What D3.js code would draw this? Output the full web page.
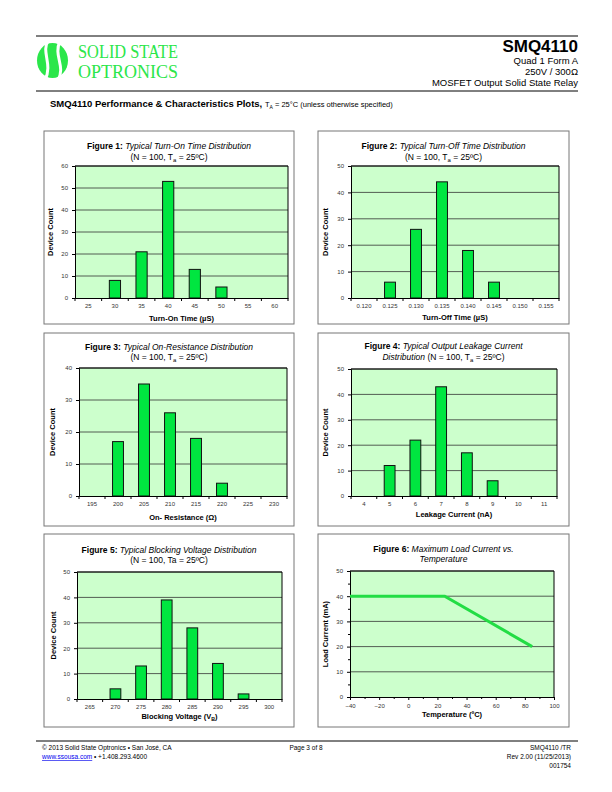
<!DOCTYPE html>
<html>
<head>
<meta charset="utf-8">
<script src="https://cdn.jsdelivr.net/npm/d3@7"></script>
<style>
  body { margin: 0; background: #fff; }
  text { font-family: "Liberation Sans", Arial, sans-serif; }
</style>
</head>
<body>
<svg id="page" width="612" height="792"></svg>
<script>
var svg = d3.select("#page");

// data
var turnOnCats = ["25", "30", "35", "40", "45", "50", "55", "60"];
var turnOnCounts = [0, 8, 21, 53, 13, 5, 0, 0];

var turnOffCats = ["0.120", "0.125", "0.130", "0.135", "0.140", "0.145", "0.150", "0.155"];
var turnOffCounts = [0, 6, 26, 44, 18, 6, 0, 0];

var onResCats = ["195", "200", "205", "210", "215", "220", "225", "230"];
var onResCounts = [0, 17, 35, 26, 18, 4, 0, 0];

var leakCats = ["4", "5", "6", "7", "8", "9", "10", "11"];
var leakCounts = [0, 12, 22, 43, 17, 6, 0, 0];

var blockCats = ["265", "270", "275", "280", "285", "290", "295", "300"];
var blockCounts = [0, 4, 13, 39, 28, 14, 2, 0];

var loadTemp = [-40, 25, 85];
var loadCurrent = [40, 40, 20];
var loadXTicks = [-40, -20, 0, 20, 40, 60, 80, 100];
var loadYTicks = [0, 10, 20, 30, 40, 50];

var barGreen = "#00e640";
var plotBg = "#ccffcc";

// ---------- header ----------
svg.append("line").attr("x1", 36).attr("x2", 578).attr("y1", 36).attr("y2", 36)
  .attr("stroke", "#000").attr("stroke-width", 1);
svg.append("line").attr("x1", 36).attr("x2", 578).attr("y1", 91).attr("y2", 91)
  .attr("stroke", "#000").attr("stroke-width", 1);

// logo
var logo = svg.append("g");
logo.append("ellipse").attr("cx", 52.5).attr("cy", 60.5).attr("rx", 15.5).attr("ry", 17.5)
  .attr("fill", "#2be64a");
logo.append("path").attr("d", "M48,41 C41,52 53,64 45,80")
  .attr("stroke", "#fff").attr("stroke-width", 3).attr("fill", "none");
logo.append("path").attr("d", "M60,41 C53,56 66,66 58,80")
  .attr("stroke", "#fff").attr("stroke-width", 3).attr("fill", "none");
logo.append("text").attr("x", 78).attr("y", 57.5).attr("textLength", 100).attr("lengthAdjust", "spacingAndGlyphs")
  .style("font-family", "'Liberation Serif', serif").style("font-size", "18px").attr("fill", "#2be64a")
  .text("SOLID STATE");
logo.append("text").attr("x", 78).attr("y", 78).attr("textLength", 100).attr("lengthAdjust", "spacingAndGlyphs")
  .style("font-family", "'Liberation Serif', serif").style("font-size", "18px").attr("fill", "#2be64a")
  .text("OPTRONICS");

svg.append("text").attr("x", 578).attr("y", 52).attr("text-anchor", "end")
  .style("font-size", "17px").style("font-weight", "bold").text("SMQ4110");
var headLines = ["Quad 1 Form A", "250V / 300Ω", "MOSFET Output Solid State Relay"];
svg.selectAll(".head").data(headLines).enter().append("text")
  .attr("x", 578).attr("y", (d, i) => 64 + i * 11).attr("text-anchor", "end")
  .style("font-size", "9.5px").text(d => d);

var sub = svg.append("text").attr("x", 50).attr("y", 107);
sub.append("tspan").style("font-size", "9.5px").style("font-weight", "bold")
  .text("SMQ4110 Performance & Characteristics Plots, ");
sub.append("tspan").style("font-size", "7.5px").text("T");
sub.append("tspan").style("font-size", "5px").attr("dy", 1.5).text("A");
sub.append("tspan").style("font-size", "7.5px").attr("dy", -1.5).text(" = 25°C (unless otherwise specified)");

// ---------- helpers ----------
function addSegments(sel, segs) {
  segs.forEach(function(s) {
    var t = sel.append("tspan").text(s.t);
    if (s.b) t.style("font-weight", "bold");
    if (s.i) t.style("font-style", "italic");
    if (s.sub) t.attr("dy", 2).style("font-size", "0.7em");
    if (s.up) t.attr("dy", -2);
  });
}

function panel(f) {
  var g = svg.append("g");
  g.append("rect").attr("x", f.box[0]).attr("y", f.box[1]).attr("width", f.box[2]).attr("height", f.box[3])
    .attr("fill", "#fff").attr("stroke", "#777").attr("stroke-width", 1);
  var cx = f.box[0] + f.box[2] / 2;
  f.title.forEach(function(line, i) {
    var t = g.append("text").attr("x", cx).attr("y", f.titleY[i]).attr("text-anchor", "middle")
      .style("font-size", "8.5px");
    addSegments(t, line);
  });
  g.append("rect").attr("x", f.plot.x0).attr("y", f.plot.y0)
    .attr("width", f.plot.x1 - f.plot.x0).attr("height", f.plot.y1 - f.plot.y0)
    .attr("fill", plotBg);
  var xt = g.append("text").attr("x", (f.plot.x0 + f.plot.x1) / 2).attr("y", f.xTitleY)
    .attr("text-anchor", "middle").style("font-size", "7.5px").style("font-weight", "bold");
  addSegments(xt, f.xTitle);
  g.append("text").attr("transform", "translate(" + f.yTitleX + "," + ((f.plot.y0 + f.plot.y1) / 2) + ") rotate(-90)")
    .attr("text-anchor", "middle").style("font-size", "7.5px").style("font-weight", "bold")
    .text(f.yTitle);
  return g;
}

function yAxisGrid(g, f, y, ticks, minor) {
  g.selectAll(".grid").data(ticks.filter(d => d > 0)).enter().append("line")
    .attr("x1", f.plot.x0).attr("x2", f.plot.x1).attr("y1", d => y(d)).attr("y2", d => y(d))
    .attr("stroke", "#333").attr("stroke-width", 0.8);
  g.append("line").attr("x1", f.plot.x1).attr("x2", f.plot.x1).attr("y1", f.plot.y0).attr("y2", f.plot.y1)
    .attr("stroke", "#000").attr("stroke-width", 1);
  g.append("line").attr("x1", f.plot.x0).attr("x2", f.plot.x1).attr("y1", f.plot.y0).attr("y2", f.plot.y0)
    .attr("stroke", "#000").attr("stroke-width", 1);
  if (minor) {
    g.append("g").attr("transform", "translate(" + f.plot.x0 + ",0)")
      .call(d3.axisLeft(y).tickValues(minor).tickSize(2).tickFormat(""))
      .call(a => a.select(".domain").remove());
  }
  var ya = g.append("g").attr("transform", "translate(" + f.plot.x0 + ",0)")
    .call(d3.axisLeft(y).tickValues(ticks).tickSize(3).tickPadding(4));
  ya.selectAll("text").style("font-size", "6px").attr("fill", "#333");
}

function drawHist(f) {
  var g = panel(f);
  var x = d3.scaleBand().domain(f.cats).range([f.plot.x0, f.plot.x1]);
  var y = d3.scaleLinear().domain([0, f.yMax]).range([f.plot.y1, f.plot.y0]);
  var ticks = d3.range(0, f.yMax + 1, 10);
  yAxisGrid(g, f, y, ticks);

  var bw = x.bandwidth() * 0.42;
  g.selectAll(".bar").data(f.cats.map((c, i) => ({c: c, v: f.counts[i]})).filter(d => d.v > 0))
    .enter().append("rect")
    .attr("x", d => x(d.c) + (x.bandwidth() - bw) / 2)
    .attr("y", d => y(d.v))
    .attr("width", bw)
    .attr("height", d => y(0) - y(d.v))
    .attr("fill", barGreen).attr("stroke", "#111").attr("stroke-width", 1);

  var xa = g.append("g").attr("transform", "translate(0," + f.plot.y1 + ")")
    .call(d3.axisBottom(x).tickSize(0).tickPadding(6));
  xa.selectAll("text").style("font-size", "6px").attr("fill", "#333");
  xa.select(".domain").attr("stroke", "#000");
  var bounds = f.cats.map(c => x(c)).concat([f.plot.x1]);
  g.selectAll(".xtick").data(bounds).enter().append("line")
    .attr("x1", d => d).attr("x2", d => d).attr("y1", f.plot.y1).attr("y2", f.plot.y1 + 3)
    .attr("stroke", "#000");
}

var title2 = [{t: "(N = 100, T"}, {t: "a", sub: true}, {t: " = 25ºC)", up: true}];

drawHist({
  box: [44, 131, 250, 193], plot: {x0: 75, x1: 288, y0: 166, y1: 298},
  title: [[{t: "Figure 1:", b: true}, {t: "  Typical Turn-On Time Distribution", i: true}], title2],
  titleY: [149, 160], xTitleY: 321, yTitleX: 53,
  xTitle: [{t: "Turn-On Time  (µS)"}], yTitle: "Device Count",
  cats: turnOnCats, counts: turnOnCounts, yMax: 60
});

drawHist({
  box: [318, 131, 251, 193], plot: {x0: 351, x1: 559, y0: 166, y1: 298},
  title: [[{t: "Figure 2:", b: true}, {t: " Typical Turn-Off Time Distribution", i: true}], title2],
  titleY: [149, 160], xTitleY: 320, yTitleX: 328,
  xTitle: [{t: "Turn-Off Time  (µS)"}], yTitle: "Device Count",
  cats: turnOffCats, counts: turnOffCounts, yMax: 50
});

drawHist({
  box: [44, 333, 250, 193], plot: {x0: 79, x1: 287, y0: 368, y1: 496},
  title: [[{t: "Figure 3:", b: true}, {t: " Typical On-Resistance Distribution", i: true}], title2],
  titleY: [350, 360], xTitleY: 520, yTitleX: 55,
  xTitle: [{t: "On- Resistance  (Ω)"}], yTitle: "Device Count",
  cats: onResCats, counts: onResCounts, yMax: 40
});

drawHist({
  box: [318, 333, 251, 193], plot: {x0: 351, x1: 557, y0: 369, y1: 496},
  title: [[{t: "Figure 4:", b: true}, {t: " Typical Output Leakage Current", i: true}],
          [{t: "Distribution", i: true}, {t: " (N = 100, T"}, {t: "a", sub: true}, {t: " = 25ºC)", up: true}]],
  titleY: [349, 360], xTitleY: 517, yTitleX: 328,
  xTitle: [{t: "Leakage Current (nA)"}], yTitle: "Device Count",
  cats: leakCats, counts: leakCounts, yMax: 50
});

drawHist({
  box: [44, 534, 250, 193], plot: {x0: 77, x1: 282, y0: 572, y1: 699},
  title: [[{t: "Figure 5:", b: true}, {t: " Typical Blocking Voltage Distribution", i: true}],
          [{t: "(N = 100, Ta = 25ºC)"}]],
  titleY: [553, 563], xTitleY: 719, yTitleX: 56,
  xTitle: [{t: "Blocking Voltage  (V"}, {t: "B", sub: true}, {t: ")", up: true}], yTitle: "Device Count",
  cats: blockCats, counts: blockCounts, yMax: 50
});

// Figure 6: line chart
(function() {
  var f = {
    box: [318, 534, 251, 193], plot: {x0: 350, x1: 554, y0: 571, y1: 697},
    title: [[{t: "Figure 6:", b: true}, {t: " Maximum Load Current vs.", i: true}], [{t: "Temperature", i: true}]],
    titleY: [552, 562], xTitleY: 717, yTitleX: 328,
    xTitle: [{t: "Temperature  (ºC)"}], yTitle: "Load Current (mA)"
  };
  var g = panel(f);
  var x = d3.scaleLinear().domain([-40, 100]).range([f.plot.x0, f.plot.x1]);
  var y = d3.scaleLinear().domain([0, 50]).range([f.plot.y1, f.plot.y0]);
  yAxisGrid(g, f, y, loadYTicks, [5, 15, 25, 35, 45]);

  var pts = loadTemp.map((t, i) => [t, loadCurrent[i]]);
  g.append("path").datum(pts)
    .attr("d", d3.line().x(d => x(d[0])).y(d => y(d[1])))
    .attr("fill", "none").attr("stroke", "#22dd44").attr("stroke-width", 3);

  g.append("g").attr("transform", "translate(0," + f.plot.y1 + ")")
    .call(d3.axisBottom(x).tickValues([-30, -10, 10, 30, 50, 70, 90]).tickSize(2).tickFormat(""))
    .call(a => a.select(".domain").remove());
  var xa = g.append("g").attr("transform", "translate(0," + f.plot.y1 + ")")
    .call(d3.axisBottom(x).tickValues(loadXTicks).tickSize(3).tickPadding(4));
  xa.selectAll("text").style("font-size", "6px").attr("fill", "#333");
})();

// ---------- footer ----------
svg.append("line").attr("x1", 36).attr("x2", 578).attr("y1", 741).attr("y2", 741)
  .attr("stroke", "#000").attr("stroke-width", 1);
var foot = svg.append("g").style("font-size", "6.5px");
foot.append("text").attr("x", 42).attr("y", 750).text("© 2013 Solid State Optronics • San José, CA");
var f2 = foot.append("text").attr("x", 42).attr("y", 759);
f2.append("tspan").attr("fill", "#0000ee").style("text-decoration", "underline").text("www.ssousa.com");
f2.append("tspan").text("  •  +1.408.293.4600");
foot.append("text").attr("x", 306).attr("y", 750).attr("text-anchor", "middle").text("Page 3 of 8");
var rightFoot = ["SMQ4110 /TR", "Rev 2.00 (11/25/2013)", "001754"];
foot.selectAll(".rf").data(rightFoot).enter().append("text")
  .attr("x", 571).attr("y", (d, i) => 750 + i * 9).attr("text-anchor", "end").text(d => d);
</script>
</body>
</html>
